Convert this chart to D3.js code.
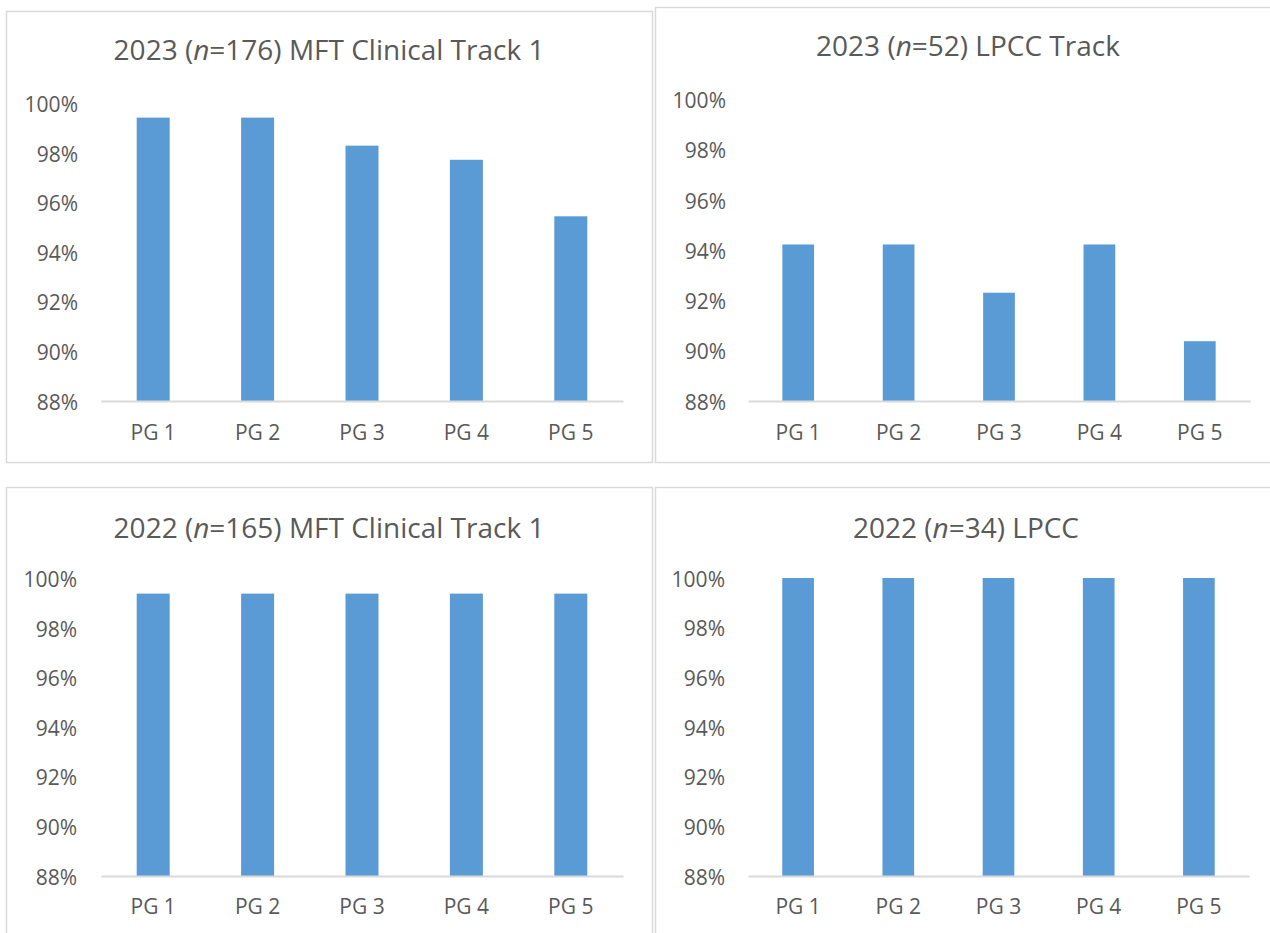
<!DOCTYPE html>
<html>
<head>
<meta charset="utf-8">
<script src="https://cdn.jsdelivr.net/npm/d3@7"></script>
<style>
  html, body { margin: 0; padding: 0; background: #fff; }
  svg { display: block; }
  text { font-family: "Open Sans", "Noto Sans", sans-serif; fill: #595959; }
</style>
</head>
<body>
<svg id="chart" width="1270" height="933"></svg>
<script>
// Category labels shared by all four charts
const categories = ["PG 1", "PG 2", "PG 3", "PG 4", "PG 5"];

// Percent of students meeting each program goal
const mft2023 = [99.43, 99.43, 98.30, 97.73, 95.45];
const lpcc2023 = [94.23, 94.23, 92.31, 94.23, 90.38];
const mft2022 = [99.39, 99.39, 99.39, 99.39, 99.39];
const lpcc2022 = [100, 100, 100, 100, 100];

// Chart titles: [before italic, italic, after italic]
const titleMft2023 = ["2023 (", "n", "=176) MFT Clinical Track 1"];
const titleLpcc2023 = ["2023 (", "n", "=52) LPCC Track"];
const titleMft2022 = ["2022 (", "n", "=165) MFT Clinical Track 1"];
const titleLpcc2022 = ["2022 (", "n", "=34) LPCC"];

// Value axis ticks
const yTicks = [88, 90, 92, 94, 96, 98, 100];
const yDomain = [88, 100];

// Panel frames and plot areas (pixels)
const panels = [
  { values: mft2023, title: titleMft2023,
    frame: [6, 11, 646, 451], titleX: 329, titleY: 49,
    plotX: [101, 623], plotY: [401, 103.5], catY: 432, tickRight: 78 },
  { values: lpcc2023, title: titleLpcc2023,
    frame: [655, 7, 640, 455], titleX: 968, titleY: 45,
    plotX: [748, 1250], plotY: [401, 99.5], catY: 432, tickRight: 726 },
  { values: mft2022, title: titleMft2022,
    frame: [6, 487, 646, 470], titleX: 329, titleY: 527,
    plotX: [101, 623], plotY: [876, 578.5], catY: 906, tickRight: 77 },
  { values: lpcc2022, title: titleLpcc2022,
    frame: [655, 487, 640, 470], titleX: 966, titleY: 527,
    plotX: [748, 1249], plotY: [876, 578], catY: 906, tickRight: 725 }
];

const TITLE_SIZE = 28;
const TICK_SIZE = 21;
const CAT_SIZE = 21;
const BAR_FRACTION = 0.316;
const BAR_COLOR = "#5b9bd5";

const svg = d3.select("#chart");

panels.forEach(p => {
  const g = svg.append("g");

  // outer frame
  g.append("rect")
    .attr("x", p.frame[0] + 0.5).attr("y", p.frame[1] + 0.5)
    .attr("width", p.frame[2]).attr("height", p.frame[3])
    .attr("fill", "#fff")
    .attr("stroke", "#d9d9d9").attr("stroke-width", 1.5);

  const x = d3.scaleBand().domain(categories).range(p.plotX).padding(0);
  const y = d3.scaleLinear().domain(yDomain).range(p.plotY);
  const bw = x.bandwidth() * BAR_FRACTION;

  // title
  const t = g.append("text")
    .attr("x", p.titleX).attr("y", p.titleY)
    .attr("text-anchor", "middle")
    .attr("dominant-baseline", "central")
    .style("font-size", TITLE_SIZE + "px");
  t.append("tspan").text(p.title[0]);
  t.append("tspan").style("font-style", "italic").text(p.title[1]);
  t.append("tspan").text(p.title[2]);

  // value axis labels
  const yAxis = d3.axisLeft(y)
    .tickValues(yTicks)
    .tickFormat(d => d + "%")
    .tickSize(0)
    .tickPadding(0);
  const ya = g.append("g")
    .attr("transform", `translate(${p.tickRight},0)`)
    .call(yAxis);
  ya.select(".domain").remove();
  ya.selectAll("text")
    .attr("dy", null)
    .attr("dominant-baseline", "central")
    .style("font-size", TICK_SIZE + "px")
    .style("font-family", null)
    .attr("fill", null);

  // bars
  g.selectAll("rect.bar")
    .data(p.values)
    .join("rect")
    .attr("class", "bar")
    .attr("x", (d, i) => x(categories[i]) + x.bandwidth() / 2 - bw / 2)
    .attr("width", bw)
    .attr("y", d => y(d))
    .attr("height", d => y(yDomain[0]) - y(d))
    .attr("fill", BAR_COLOR);

  // category axis
  const xAxis = d3.axisBottom(x).tickSize(0).tickPadding(0);
  const xa = g.append("g")
    .attr("transform", `translate(0,${y(yDomain[0])})`)
    .call(xAxis);
  xa.select(".domain")
    .attr("stroke", "#d9d9d9").attr("stroke-width", 2);
  xa.selectAll("text")
    .attr("y", p.catY - y(yDomain[0]))
    .attr("dy", null)
    .attr("dominant-baseline", "central")
    .style("font-size", CAT_SIZE + "px")
    .style("font-family", null)
    .attr("fill", null);
});
</script>
</body>
</html>
